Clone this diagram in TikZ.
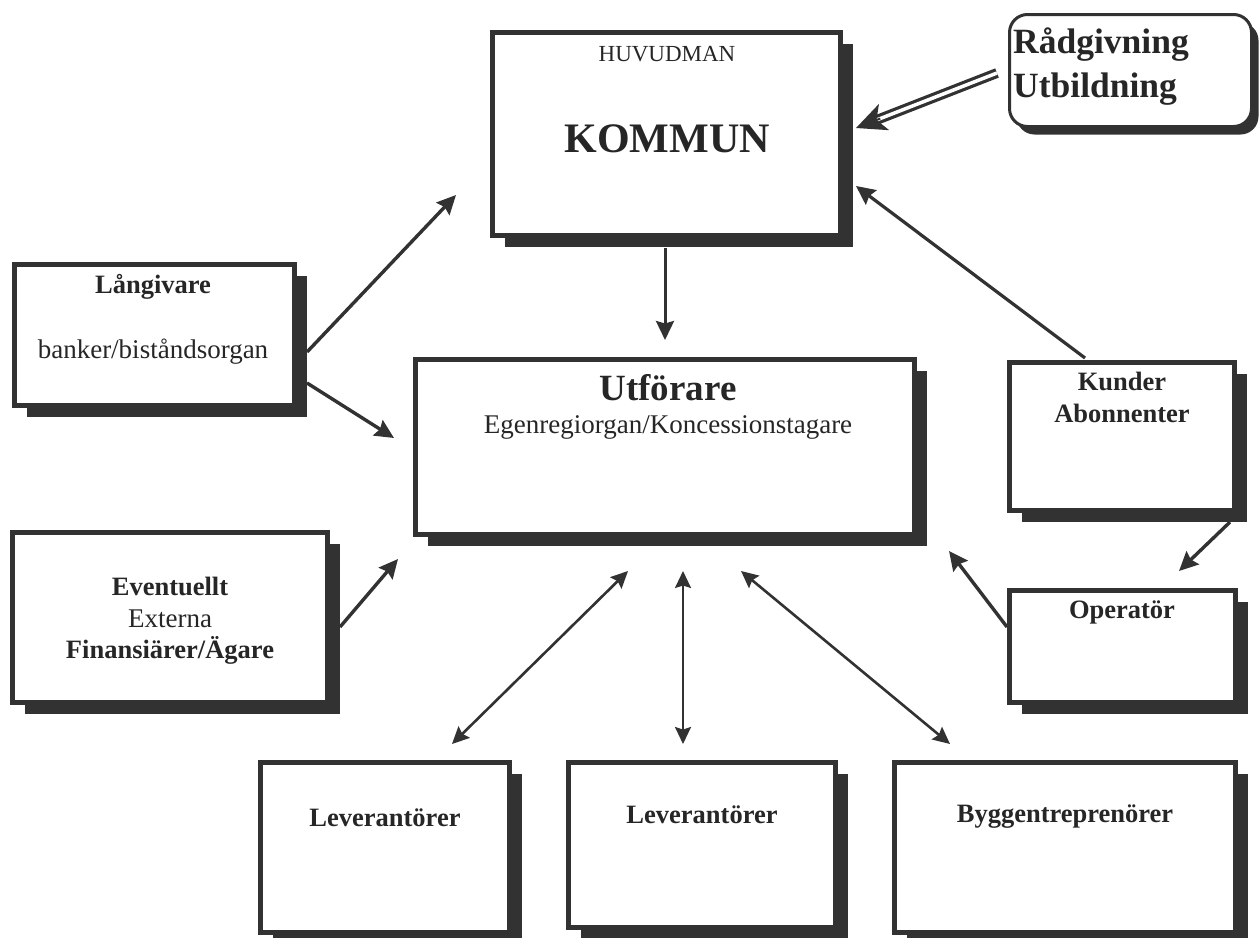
\documentclass[tikz,border=0pt]{standalone}
\usepackage{fontspec}
\setmainfont{Liberation Serif}
\usetikzlibrary{arrows.meta,shadows,calc}
\definecolor{ink}{RGB}{50,50,50}
\definecolor{txtc}{RGB}{38,38,38}
\begin{document}
\begin{tikzpicture}[x=1pt,y=-1pt,
  box/.style={draw=ink, line width=5.5pt, fill=white, inner sep=0pt,
    drop shadow={shadow xshift=12pt, shadow yshift=-11pt, opacity=1, fill=ink}},
  rbox/.style={draw=ink, line width=3pt, fill=white, inner sep=0pt, rounded corners=18pt,
    drop shadow={shadow xshift=7pt, shadow yshift=-8pt, opacity=1, fill=ink}},
  txt/.style={anchor=base, text=txtc, inner sep=0pt},
  bfn/.style={font=\fontsize{26.5}{30}\selectfont\bfseries},
  rmn/.style={font=\fontsize{27}{30}\selectfont},
  arr/.style={draw=ink, line width=3.4pt, -{Stealth[length=19pt,width=18pt,inset=2.5pt]}},
  darr/.style={draw=ink, line width=2.6pt, {Stealth[length=17pt,width=16pt,inset=2.5pt]}-{Stealth[length=17pt,width=16pt,inset=2.5pt]}}
]
\useasboundingbox (0,0) rectangle (1260,937);
\fill[white] (0,0) rectangle (1260,937);

% boxes
\node[box, minimum width=348pt, minimum height=203pt] (kommun) at (666.5,134) {};
\node[box, minimum width=280pt, minimum height=141pt] (lang) at (154.5,335) {};
\node[box, minimum width=499pt, minimum height=175pt] (utf) at (665,447) {};
\node[box, minimum width=315pt, minimum height=170pt] (event) at (170,617.5) {};
\node[box, minimum width=225pt, minimum height=148pt] (kund) at (1122,436.5) {};
\node[box, minimum width=226pt, minimum height=112pt] (oper) at (1122.5,646.5) {};
\node[box, minimum width=249pt, minimum height=170pt] (lev1) at (385,847.5) {};
\node[box, minimum width=267pt, minimum height=165pt] (lev2) at (702,845) {};
\node[box, minimum width=341pt, minimum height=170pt] (bygg) at (1065,847.5) {};
\node[rbox, minimum width=242pt, minimum height=112pt] (rad) at (1130.5,70.5) {};

% texts
\node[txt, font=\fontsize{23}{26}\selectfont] (huv) at (667,61) {HUVUDMAN};
\node[txt, font=\fontsize{42}{48}\selectfont\bfseries] (kom) at (667,152) {KOMMUN};
\node[txt, anchor=base west, font=\fontsize{35.5}{40}\selectfont\bfseries] (rad1) at (1013,53) {Rådgivning};
\node[txt, anchor=base west, font=\fontsize{35.5}{40}\selectfont\bfseries] (rad2) at (1013,97) {Utbildning};
\node[txt, bfn] (lang1) at (153,293) {Långivare};
\node[txt, rmn] (lang2) at (153,358) {banker/biståndsorgan};
\node[txt, font=\fontsize{37}{42}\selectfont\bfseries] (utf1) at (668,400) {Utförare};
\node[txt, rmn] (utf2) at (668,433) {Egenregiorgan/Koncessionstagare};
\node[txt, bfn] (kund1) at (1122,390) {Kunder};
\node[txt, bfn] (kund2) at (1122,422) {Abonnenter};
\node[txt, bfn] (oper1) at (1122,618) {Operatör};
\node[txt, bfn] (ev1) at (170,595) {Eventuellt};
\node[txt, rmn] (ev2) at (170,627) {Externa};
\node[txt, bfn] (ev3) at (170,658) {Finansiärer/Ägare};
\node[txt, bfn] (lev1t) at (385,826) {Leverantörer};
\node[txt, bfn] (lev2t) at (702,823) {Leverantörer};
\node[txt, bfn] (byggt) at (1065,822) {Byggentreprenörer};

% connector end points
\coordinate (k0) at (665,248);   \coordinate (k1) at (665,340);
\coordinate (l0) at (307,352);   \coordinate (l1) at (456,195);
\coordinate (l2) at (307,383);   \coordinate (l3) at (394,438);
\coordinate (e0) at (340,627);   \coordinate (e1) at (398,559);
\coordinate (ds) at (997,73);    \coordinate (dt) at (856,128);
\coordinate (c0) at (1085,358);  \coordinate (c1) at (856,186);
\coordinate (c2) at (1230,522);  \coordinate (c3) at (1179,571);
\coordinate (o0) at (1007,627);  \coordinate (o1) at (949,551);
\coordinate (u1) at (628,571);   \coordinate (v1) at (452,744);
\coordinate (u2) at (683,571);   \coordinate (v2) at (683,744);
\coordinate (u3) at (741,571);   \coordinate (v3) at (950,744);

\draw[arr, line width=3pt] (k0) -- (k1);
\draw[arr] (l0) -- (l1);
\draw[arr] (l2) -- (l3);
\draw[arr] (e0) -- (e1);
\draw[arr, line width=3.2pt] (c0) -- (c1);
\draw[arr] (c2) -- (c3);
\draw[arr] (o0) -- (o1);
\draw[darr] (u1) -- (v1);
\draw[darr, line width=2.2pt] (u2) -- (v2);
\draw[darr] (u3) -- (v3);

% double-line arrow
\draw[draw=ink, line width=3.2pt, double=white, double distance=3.5pt, shorten >=22pt] (ds) -- (dt);
\draw[ink, line width=2pt, -{Stealth[length=30pt,width=28pt,inset=8pt]}] ($(dt)!26pt!(ds)$) -- (dt);
\end{tikzpicture}
\end{document}
